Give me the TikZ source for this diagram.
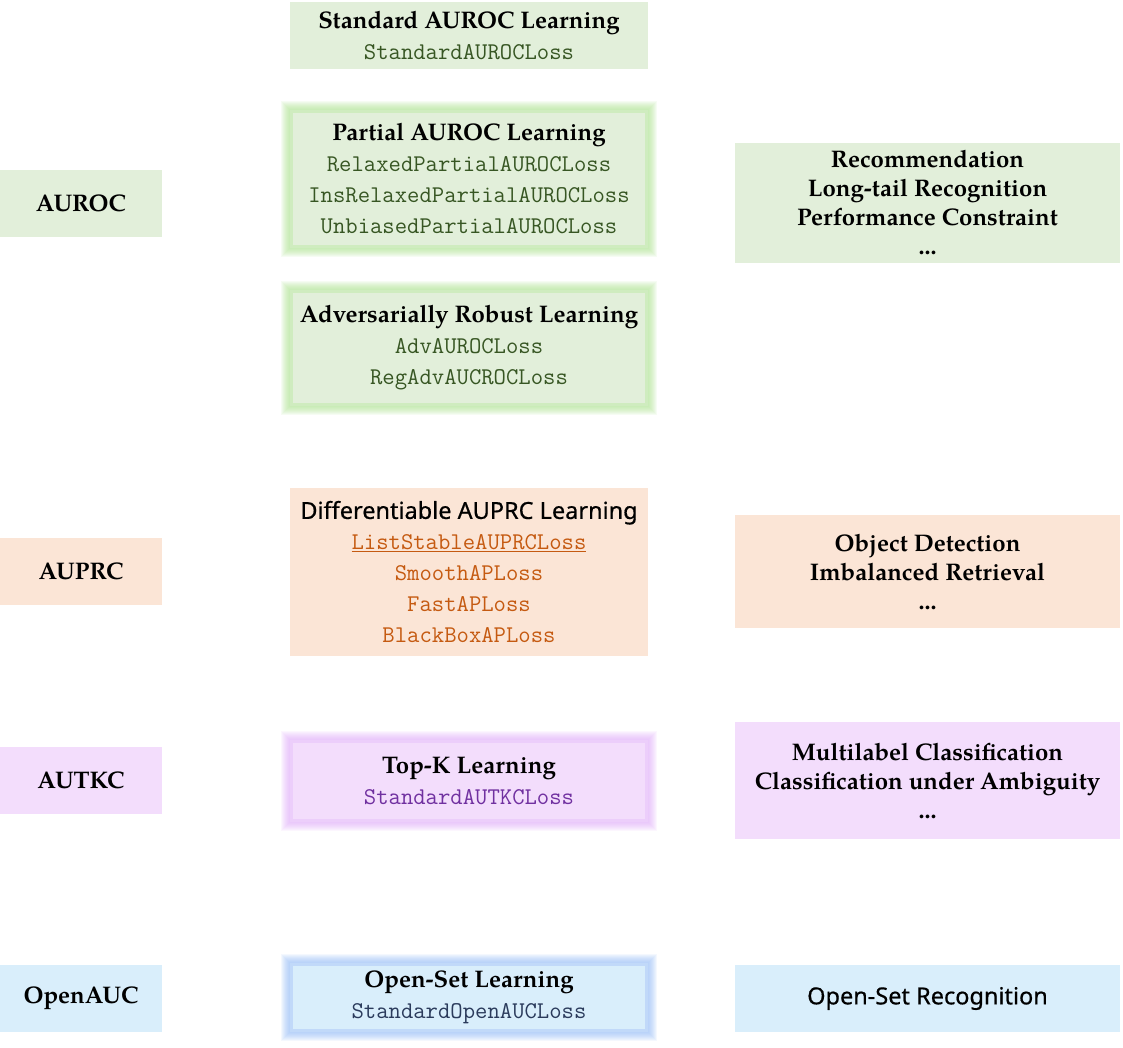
\documentclass[tikz,border=0pt]{standalone}
\usepackage{fontspec}
\newfontfamily\sansf{Noto Sans}[FakeBold=0.6,UprightFeatures={FakeBold=0.6}]
\newfontfamily\palf{TeX Gyre Pagella}
\usetikzlibrary{backgrounds}
\newcommand\palb{\palf\bfseries}
\newcommand\codef{\ttfamily\fontsize{24}{31}\selectfont}
\definecolor{gfill}{HTML}{E2EFDA}
\definecolor{ofill}{HTML}{FBE5D6}
\definecolor{pfill}{HTML}{F3DDFC}
\definecolor{bfill}{HTML}{D9EEFB}
\definecolor{gglow}{HTML}{A8E08A}
\definecolor{pglow}{HTML}{DDA8F8}
\definecolor{bglow}{HTML}{8FB8F5}
\definecolor{gcode}{HTML}{375623}
\definecolor{ocode}{HTML}{C55A11}
\definecolor{pcode}{HTML}{7030A0}
\definecolor{bcode}{HTML}{2B3B5C}
\tikzset{
  box/.style={inner sep=0pt, align=center, font=\fontsize{24}{31}\selectfont},
  leftbox/.style={box, minimum width=162pt, minimum height=67pt},
  midbox/.style={box, minimum width=358pt},
  rightbox/.style={box, minimum width=385pt, font=\fontsize{24}{29}\selectfont},
}
\newcommand\glow[2]{%
  \begin{scope}[on background layer]
  \foreach \w in {2,4,...,18}{
    \draw[#2, opacity=0.1, line width=\w pt] (#1.south west) rectangle (#1.north east);
  }
  \end{scope}
  \draw[#2!60!white, opacity=0.8, line width=3pt] ([xshift=1.5pt,yshift=1.5pt]#1.south west) rectangle ([xshift=-1.5pt,yshift=-1.5pt]#1.north east);
}
\begin{document}
\begin{tikzpicture}[x=1pt,y=-1pt]
\useasboundingbox (0,0) rectangle (1123,1048);
% left column
\node[leftbox, fill=gfill] (auroc) at (81,203.5) {\palb AUROC};
\node[leftbox, fill=ofill] (auprc) at (81,571.5) {\palb AUPRC};
\node[leftbox, fill=pfill] (autkc) at (81,780.5) {\palb AUTKC};
\node[leftbox, fill=bfill] (openauc) at (81,998.5) {\palb OpenAUC};
% middle column
\node[midbox, fill=gfill, minimum height=67pt] (std) at (469,35.5)
  {\palb Standard AUROC Learning\\ \codef\color{gcode}StandardAUROCLoss};
\node[midbox, fill=gfill, minimum height=138pt] (partial) at (469,179)
  {\palb Partial AUROC Learning\\ \codef\color{gcode}RelaxedPartialAUROCLoss\\ \codef\color{gcode}InsRelaxedPartialAUROCLoss\\ \codef\color{gcode}UnbiasedPartialAUROCLoss};
\glow{partial}{gglow}
\node[midbox, fill=gfill, minimum height=116pt] (adv) at (469,348)
  {\palb Adversarially Robust Learning\\ \codef\color{gcode}AdvAUROCLoss\\ \codef\color{gcode}RegAdvAUCROCLoss};
\glow{adv}{gglow}
\node[midbox, fill=ofill, minimum height=168pt] (diff) at (469,572)
  {\sansf\fontsize{23.5}{31}\selectfont Differentiable AUPRC Learning\\ \codef\color{ocode}\underline{ListStableAUPRCLoss}\\ \codef\color{ocode}SmoothAPLoss\\ \codef\color{ocode}FastAPLoss\\ \codef\color{ocode}BlackBoxAPLoss};
\node[midbox, fill=pfill, minimum height=82pt] (topk) at (469,781)
  {\palb Top-K Learning\\ \codef\color{pcode}StandardAUTKCLoss};
\glow{topk}{pglow}
\node[midbox, fill=bfill, minimum height=69pt] (openset) at (469,997.5)
  {\palb Open-Set Learning\\ \codef\color{bcode}StandardOpenAUCLoss};
\glow{openset}{bglow}
% right column
\node[rightbox, fill=gfill, minimum height=120pt] (rec) at (927.5,203)
  {\palb Recommendation\\ \palb Long-tail Recognition\\ \palb Performance Constraint\\ \palb ...};
\node[rightbox, fill=ofill, minimum height=113pt] (obj) at (927.5,571.5)
  {\palb Object Detection\\ \palb Imbalanced Retrieval\\ \palb ...};
\node[rightbox, fill=pfill, minimum height=117pt] (multi) at (927.5,780.5)
  {\palb Multilabel Classification\\ \palb Classification under Ambiguity\\ \palb ...};
\node[rightbox, fill=bfill, minimum height=67pt] (osr) at (927.5,998.5)
  {\sansf\fontsize{23.5}{30}\selectfont Open-Set Recognition};
\end{tikzpicture}
\end{document}
